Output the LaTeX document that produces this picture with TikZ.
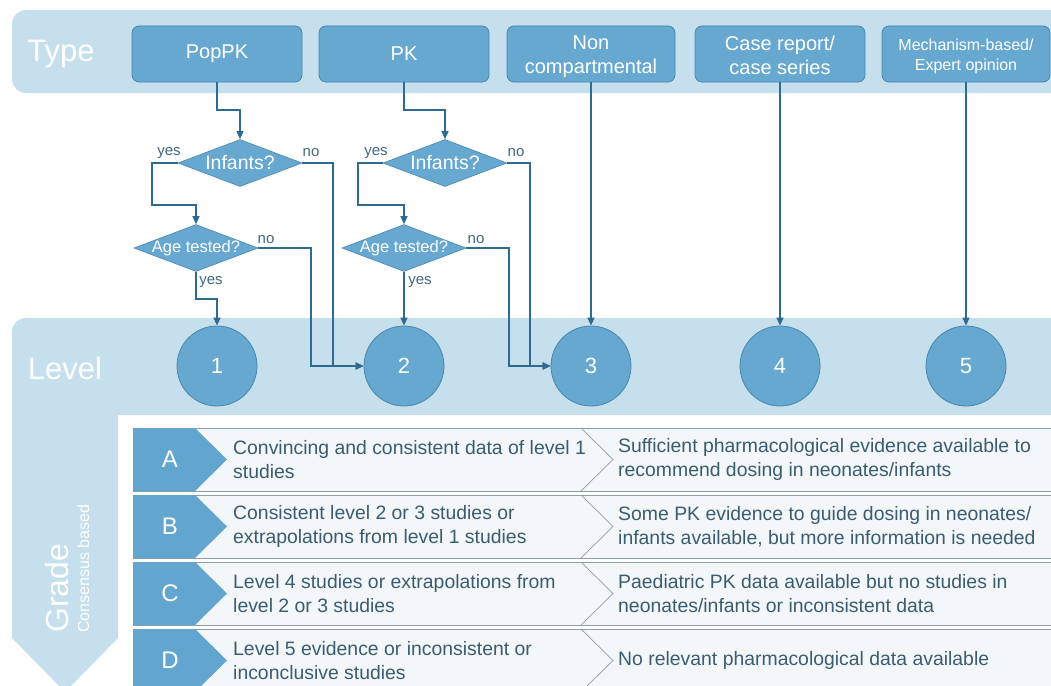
\documentclass[tikz,border=0pt]{standalone}
\usepackage{fontspec}
\setmainfont{Liberation Sans}
\usetikzlibrary{shapes.geometric,arrows.meta,calc}
\definecolor{band}{HTML}{C6DFEC}
\definecolor{boxf}{HTML}{66A8D0}
\definecolor{boxd}{HTML}{4A86AE}
\definecolor{lin}{HTML}{2E6B91}
\definecolor{lbl}{HTML}{3F6882}
\definecolor{rowf}{HTML}{F3F7FA}
\definecolor{rowd}{HTML}{8C9DA8}
\definecolor{txt}{HTML}{3B5C70}
\definecolor{tabc}{HTML}{62A5CE}
\tikzset{
 typebox/.style={draw=boxd, fill=boxf, rounded corners=7pt, minimum width=170pt, minimum height=56pt, inner sep=0pt, text=white, align=center, line width=0.8pt, font=\fontsize{20}{24}\selectfont},
 dec/.style={diamond, aspect=2.64, draw=boxd, fill=boxf, minimum width=124pt, minimum height=47pt, inner sep=0pt, text=white, line width=0.6pt},
 lev/.style={circle, draw=boxd, fill=boxf, minimum size=80pt, inner sep=0pt, text=white, font=\fontsize{22}{26}\selectfont, line width=0.8pt},
 conn/.style={draw=lin, line width=1.4pt, -{Triangle[length=8pt,width=7pt]}},
 yn/.style={text=lbl, font=\fontsize{15}{18}\selectfont, inner sep=0pt},
 rowtxt/.style={text=txt, anchor=west, align=left, inner sep=0pt, font=\fontsize{19.4}{24}\selectfont},
 bigw/.style={text=white, inner sep=0pt, font=\fontsize{31}{36}\selectfont},
 tabletter/.style={text=white, inner sep=0pt, font=\fontsize{24}{28}\selectfont}
}
\newcommand\graderow[5]{%
 \draw[rowd, fill=rowf, line width=0.8pt] (133,#1) rectangle (1060,{#1+63});
 \fill[tabc] (133,#1) -- (195,#1) -- (227,{#1+31.5}) -- (195,{#1+63}) -- (133,{#1+63}) -- cycle;
 \draw[rowd, line width=0.7pt] (581,#1) -- (613,{#1+31.5}) -- (581,{#1+63});
 \node[tabletter] (#5l) at (170,{#1+31.5}) {#2};
 \node[rowtxt] (#5a) at (233,{#1+31.5}) {#3};
 \node[rowtxt] (#5b) at (618,{#1+31.5}) {#4};
}
\newcommand\lowtwo[3]{\raisebox{-#1}[\height][\depth]{\parbox{160pt}{\centering #2\\#3}}}
\begin{document}
\begin{tikzpicture}[x=1pt,y=-1pt]
\useasboundingbox (0,0) rectangle (1051,685);
% bands
\fill[band, rounded corners=14pt] (12,10) rectangle (1090,93);
\fill[band] (65,692) -- (12,638) [rounded corners=14pt] -- (12,318) -- (1090,318) [sharp corners] -- (1090,415) -- (118,415) -- (118,638) -- cycle;
\node[bigw] (ttype) at (61,54) {Type};
\node[bigw] (tlevel) at (65,368) {Level};
\node[text=white, rotate=90, anchor=base west, inner sep=0pt, font=\fontsize{32}{36}\selectfont] (tgrade) at (68,633) {Grade};
\node[text=white, rotate=90, anchor=base west, inner sep=0pt, font=\fontsize{16}{19}\selectfont] (tcons) at (89,633) {Consensus based};
% type boxes
\node[typebox] (tPop) at (217,54) {PopPK};
\node[typebox] (tPK) at (404,54) {PK};
\node[typebox, minimum width=168pt] (tNC) at (591,54) {\lowtwo{3pt}{Non}{compartmental}};
\node[typebox] (tCR) at (780,54) {\lowtwo{1pt}{Case report/}{case series}};
\node[typebox, minimum width=168pt, font=\fontsize{16}{20}\selectfont] (tME) at (966,54) {\lowtwo{2pt}{Mechanism-based/}{Expert opinion}};
% decisions
\node[dec, font=\fontsize{19.5}{22}\selectfont] (inf1) at (240,163) {Infants?};
\node[dec, inner sep=-2pt, font=\fontsize{16.5}{20}\selectfont] (age1) at (196,248) {Age tested?};
\node[dec, font=\fontsize{19.5}{22}\selectfont] (inf2) at (445,163) {Infants?};
\node[dec, inner sep=-2pt, font=\fontsize{16.5}{20}\selectfont] (age2) at (404,248) {Age tested?};
% levels
\node[lev] (c1) at (217,366) {1};
\node[lev] (c2) at (404,366) {2};
\node[lev] (c3) at (591,366) {3};
\node[lev] (c4) at (780,366) {4};
\node[lev] (c5) at (966,366) {5};
% bend coordinates
\coordinate (k1) at (240,110);
\coordinate (k2) at (445,110);
\coordinate (y1) at (152,205);
\coordinate (y2) at (358,205);
\coordinate (n1) at (333,366);
\coordinate (m1) at (311,366);
\coordinate (n2) at (530,366);
\coordinate (m2) at (509,366);
\coordinate (a1) at (196,299);
% connectors
\draw[conn] (tPop.south) |- (k1) -- (inf1.north);
\draw[conn] (tPK.south) |- (k2) -- (inf2.north);
\draw[conn] (inf1.west) -| (y1) -| (age1.north);
\draw[conn] (inf2.west) -| (y2) -| (age2.north);
\draw[conn] (inf1.east) -| (n1) -- (c2.west);
\draw[conn] (age1.east) -| (m1) -- (c2.west);
\draw[conn] (age1.south) -- (a1) -| (c1.north);
\draw[conn] (inf2.east) -| (n2) -- (c3.west);
\draw[conn] (age2.east) -| (m2) -- (c3.west);
\draw[conn] (age2.south) -- (c2.north);
\draw[conn] (tNC.south) -- (c3.north);
\draw[conn] (tCR.south) -- (c4.north);
\draw[conn] (tME.south) -- (c5.north);
% yes/no labels
\node[yn] (l1) at (169,153) {yes};
\node[yn] (l2) at (311,153) {no};
\node[yn] (l3) at (266,240) {no};
\node[yn] (l4) at (211,282) {yes};
\node[yn] (l5) at (376,153) {yes};
\node[yn] (l6) at (516,153) {no};
\node[yn] (l7) at (476,240) {no};
\node[yn] (l8) at (420,282) {yes};
% grade rows
\graderow{428}{A}{Convincing and consistent data of level 1\\studies}{Sufficient pharmacological evidence available to\\recommend dosing in neonates/infants}{gA}
\graderow{495}{B}{Consistent level 2 or 3 studies or\\extrapolations from level 1 studies}{Some PK evidence to guide dosing in neonates/\\infants available, but more information is needed}{gB}
\graderow{562}{C}{Level 4 studies or extrapolations from\\level 2 or 3 studies}{Paediatric PK data available but no studies in\\neonates/infants or inconsistent data}{gC}
\graderow{629}{D}{Level 5 evidence or inconsistent or\\inconclusive studies}{No relevant pharmacological data available}{gD}
\end{tikzpicture}
\end{document}
